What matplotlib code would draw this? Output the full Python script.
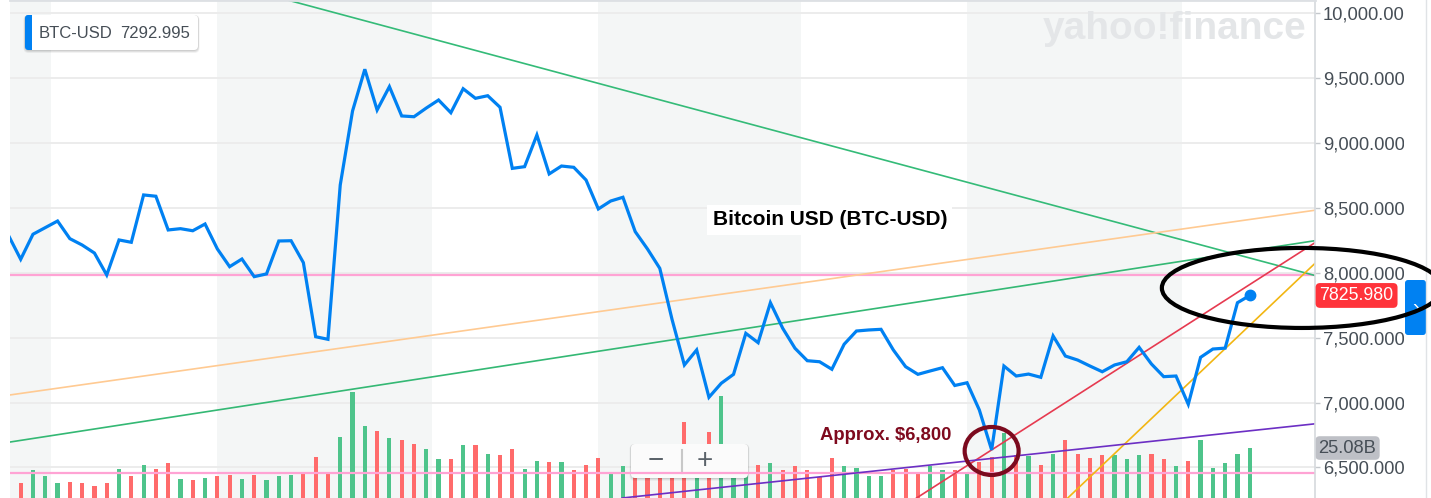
import matplotlib
matplotlib.use("Agg")
import matplotlib.pyplot as plt
import matplotlib.transforms as mtransforms
from matplotlib.patches import Ellipse, FancyBboxPatch, Rectangle
import numpy as np

plt.rcParams["font.family"] = ["Liberation Sans", "DejaVu Sans"]

# BTC-USD daily closes, oldest first; the first one sits
# just left of the visible area
close_prices = [
    8290,
    8105, 8298, 8349, 8400, 8264, 8215, 8153, 7984, 8254, 8236,
    8601, 8591, 8331, 8341, 8325, 8377, 8185, 8048, 8107, 7971,
    7992, 8246, 8248, 8079, 7508, 7488, 8678, 9248, 9570, 9256,
    9436, 9210, 9204, 9271, 9333, 9235, 9420, 9346, 9366, 9277,
    8806, 8819, 9063, 8763, 8824, 8814, 8716, 8493, 8554, 8583,
    8318, 8184, 8035, 7640, 7290, 7406, 7041, 7149, 7218, 7534,
    7462, 7770, 7573, 7419, 7323, 7315, 7257, 7450, 7552, 7560,
    7565, 7406, 7277, 7218, 7244, 7269, 7132, 7153, 6943, 6635,
    7282, 7205, 7220, 7195, 7514, 7359, 7328, 7282, 7238, 7290,
    7315, 7426, 7298, 7200, 7205, 6987, 7349, 7413, 7420, 7770,
    7825.980,
]

# daily volume in billions of USD (visible days only)
volumes_b = [
    14.3, 18.3, 16.4, 14.3, 14.8, 14.3, 13.5, 14.3, 18.6, 16.4,
    19.9, 18.6, 20.4, 15.6, 15.3, 16.0, 16.4, 16.8, 15.6, 16.8,
    15.3, 16.4, 16.8, 17.8, 22.4, 17.3, 28.3, 42.2, 31.9, 30.2,
    28.0, 27.6, 26.4, 24.7, 21.6, 21.6, 25.9, 25.9, 23.3, 22.9,
    24.7, 18.7, 21.2, 20.8, 20.8, 18.3, 19.9, 22.1, 17.3, 19.5,
    21.4, 22.0, 22.9, 23.9, 33.1, 24.5, 29.9, 41.0, 21.6, 24.2,
    19.9, 20.4, 18.3, 19.5, 18.3, 16.1, 22.1, 19.5, 19.1, 16.5,
    16.5, 18.3, 18.7, 17.3, 19.5, 18.3, 18.3, 17.3, 20.9, 22.4,
    29.8, 22.9, 22.6, 19.9, 23.3, 27.6, 23.3, 22.0, 22.9, 22.9,
    21.6, 22.9, 23.3, 21.6, 19.5, 21.2, 27.6, 19.1, 20.4, 23.3,
    25.08,
]

# g = up day, r = down day
volume_moves = (
    "rgggrrrrgr" "grrgrgrrgr" "gggrrrgggr" "grrggrgrgr" "rggrgrrrgg"
    "rrrrrgrggg" "rgrrrrrggg" "grrrggrgrr" "grgrgrrrrg" "ggrrgrgggg" "g"
)

ticker = "BTC-USD"
hover_value = 7292.995
price_ticks = list(range(6500, 10001, 500))

# alternating shaded date bands (day index)
band_starts = [-1.0, 16.0, 47.0, 77.0]
band_ends = [2.5, 33.5, 63.5, 94.5]

# hand drawn trend lines, two anchors each (day index, price)
trend_x0 = [21.7, -0.87, -0.87, 72.9, 85.2, 49.0]
trend_p0 = [10104, 7059, 6696, 6265, 6265, 6265]
trend_x1 = [105.15, 105.15, 105.15, 105.15, 105.17, 105.17]
trend_p1 = [7984, 8481, 8246, 8223, 8061, 6835]
level_prices = [7982, 6457]

trend_colors = ["#34bb78", "#ffca92", "#34b874", "#e63a50", "#f2b612", "#6c2fc4"]

price_days = np.arange(len(close_prices)) - 1
volume_days = np.arange(len(volumes_b))
up_color = "#4ec48b"
down_color = "#ff6b6b"
bar_colors = [up_color if m == "g" else down_color for m in volume_moves]

fig = plt.figure(figsize=(14.31, 4.98), dpi=100)
ax = fig.add_axes([10 / 1431, 0, 1305 / 1431, 1])
ax_vol = ax.twinx()
ax.set_zorder(3)
ax_vol.set_zorder(1)
ax.patch.set_visible(False)

x_lo, x_hi = -0.87, 105.31
ax.set_xlim(x_lo, x_hi)
ax.set_ylim(6264.5, 10104)

# background bands and grid (under the volume bars)
for start, end in zip(band_starts, band_ends):
    ax_vol.axvspan(start, end, color="#f4f6f6", lw=0, zorder=0)
for tick in price_ticks:
    ax_vol.plot([x_lo, x_hi], [tick, tick], transform=ax.transData,
                color="#ececec", lw=1.4, zorder=0.5)

ax_vol.bar(volume_days, volumes_b, width=0.34, color=bar_colors, zorder=2)
ax_vol.set_xlim(x_lo, x_hi)
ax_vol.set_ylim(9.79, 162.1)
ax_vol.set_yticks([])
for side in ["left", "right", "top", "bottom"]:
    ax_vol.spines[side].set_visible(False)

# user drawn lines
for level in level_prices:
    ax.axhline(level, color="#ffa3d4", lw=1.6, zorder=2)
for x0, p0, x1, p1, color in zip(trend_x0, trend_p0, trend_x1, trend_p1, trend_colors):
    ax.axline((x0, p0), (x1, p1), color=color, lw=1.2, zorder=2)

ax.plot(price_days, close_prices, color="#0081f2", lw=2.3, solid_joinstyle="miter", zorder=4)
ax.plot(price_days[-1], close_prices[-1], "o", ms=7.5, color="#0081f2", zorder=5)

# axis styling
ax.yaxis.tick_right()
ax.set_yticks(price_ticks)
ax.yaxis.set_major_formatter(lambda v, pos: f"{v:,.3f}")
ax.tick_params(axis="y", direction="out", length=3.6, width=1, color="#c4c8cc",
               pad=2, labelsize=13.2, labelcolor="#464e56")
ax.tick_params(axis="x", bottom=False, labelbottom=False)
ax.spines["left"].set_visible(False)
ax.spines["bottom"].set_visible(False)
ax.spines["right"].set_color("#d6d9dd")
ax.spines["right"].set_linewidth(1.2)
ax.spines["top"].set_color("#dde0e4")
ax.spines["top"].set_linewidth(2)

# price and volume tags on the right axis
price_tf = mtransforms.offset_copy(
    mtransforms.blended_transform_factory(ax.transAxes, ax.transData),
    fig=fig, x=4.5, y=0, units="dots")
ax.text(1.0, close_prices[-1], f"{close_prices[-1]:.3f}", transform=price_tf,
        ha="left", va="center", color="white", fontsize=12.8, clip_on=False,
        bbox=dict(boxstyle="round,pad=0.22,rounding_size=0.25", fc="#ff333a", ec="none"))
vol_tf = mtransforms.offset_copy(
    mtransforms.blended_transform_factory(ax_vol.transAxes, ax_vol.transData),
    fig=fig, x=3.5, y=0, units="dots")
ax_vol.text(1.0, volumes_b[-1], f"{volumes_b[-1]:.2f}B", transform=vol_tf,
            ha="left", va="center", color="#464e56", fontsize=13.2, clip_on=False,
            bbox=dict(boxstyle="round,pad=0.18,rounding_size=0.25", fc="#bec0c6", ec="none"))

# annotations
ax.text(56.3, 8408, "Bitcoin USD (BTC-USD)", fontsize=15, fontweight="bold",
        color="black", ha="left", va="center", zorder=6,
        bbox=dict(boxstyle="square,pad=0.25", fc="white", ec="none"))
ax.text(65.0, 6745, "Approx. $6,800", fontsize=13.3, fontweight="bold",
        color="#7f0a1e", ha="left", va="center", zorder=6)
ax.add_patch(Ellipse((79, close_prices[80] - 8), 4.39, 370, fill=False,
                     ec="#7b0a1e", lw=3, zorder=6))
ax.add_patch(Ellipse((104.25, 7884), 22.8, 617, fill=False, ec="black",
                     lw=3, zorder=7, clip_on=False))

# page furniture in pixel coordinates
ui = fig.add_axes([0, 0, 1, 1])
ui.set_xlim(0, 1431)
ui.set_ylim(498, 0)
ui.axis("off")
ui.set_zorder(2)
ui.patch.set_visible(False)

ui.plot([1426, 1426], [0, 498], color="#e0e3e6", lw=1)

for off, alpha in [(3, 0.05), (2, 0.07), (1, 0.08)]:
    ui.add_patch(FancyBboxPatch((25 - off / 2, 15), 173 + off, 35 + off,
                                boxstyle="round,pad=0,rounding_size=5",
                                fc="black", ec="none", alpha=alpha))
ui.add_patch(FancyBboxPatch((25, 15), 173, 35, boxstyle="round,pad=0,rounding_size=4",
                            fc="white", ec="none"))
ui.add_patch(FancyBboxPatch((25, 15), 7, 35, boxstyle="round,pad=0,rounding_size=3",
                            fc="#0081f2", ec="none"))
ui.add_patch(Rectangle((29, 15), 3, 35, fc="#0081f2", ec="none"))
ui.text(39, 33, ticker, fontsize=12, color="#464e56", ha="left", va="center")
ui.text(120, 33, f"{hover_value:.3f}", fontsize=12, color="#464e56", ha="left", va="center")

ui.text(1043, 39, "yahoo!finance", fontsize=28, fontweight="bold", color="#e4e6e8",
        ha="left", va="baseline")

for off, alpha in [(3, 0.04), (2, 0.06), (1, 0.08)]:
    ui.add_patch(FancyBboxPatch((631 - off / 2, 444), 117 + off, 34 + off,
                                boxstyle="round,pad=0,rounding_size=5",
                                fc="black", ec="none", alpha=alpha))
ui.add_patch(FancyBboxPatch((631, 444), 117, 34, boxstyle="round,pad=0,rounding_size=4",
                            fc="#fbfbfb", ec="none"))
ui.plot([682, 682], [450, 473], color="#c8c8c8", lw=1.5)
ui.text(656, 461, "\u2212", fontsize=20, color="#5b636a", ha="center", va="center")
ui.text(705, 461, "+", fontsize=20, color="#5b636a", ha="center", va="center")

ui.add_patch(FancyBboxPatch((1405, 280), 21, 55, boxstyle="round,pad=0,rounding_size=3",
                            fc="#0081f2", ec="none"))
ui.text(1416, 307, "\u203a", fontsize=15, color="white", ha="center", va="center")

# the tick label column is cut off where the side tab starts
label_clip = mtransforms.TransformedBbox(
    mtransforms.Bbox.from_extents(0, 0, 1404 / 1431, 1), fig.transFigure)
for tick in ax.yaxis.get_major_ticks():
    tick.label2.set_clip_box(label_clip)
    tick.label2.set_clip_on(True)

fig.savefig("out.png", dpi=100)
